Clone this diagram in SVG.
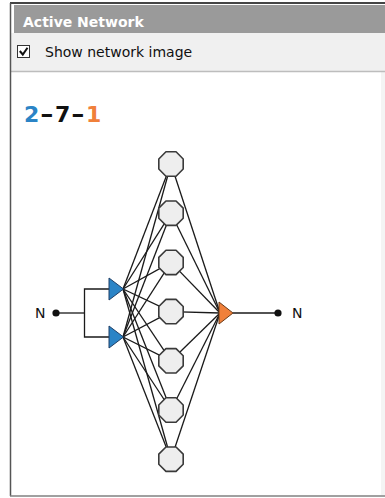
<svg xmlns="http://www.w3.org/2000/svg" width="385" height="498" viewBox="0 0 385 498">
  <style>
    .hdr { font-family: "DejaVu Sans", Verdana, sans-serif; font-weight: bold; font-size: 14px; fill: #ffffff; }
    .lbl { font-family: "DejaVu Sans", Verdana, sans-serif; font-size: 14px; fill: #111111; }
    .big { font-family: "DejaVu Sans", Verdana, sans-serif; font-weight: bold; font-size: 22px; }
    .wire { stroke: #1a1a1a; stroke-width: 1.3; fill: none; }
    .hid { fill: #eeeeee; stroke: #3a3a3a; stroke-width: 1.6; stroke-linejoin: round; }
    .inp { fill: #2b84c6; stroke: #1f3f66; stroke-width: 1; }
    .out { fill: #f0803a; stroke: #6a3a18; stroke-width: 1; }
    .dot { fill: #111111; }
  </style>
  <defs>
    <polygon id="oct" points="12.2,5.05 5.05,12.2 -5.05,12.2 -12.2,5.05 -12.2,-5.05 -5.05,-12.2 5.05,-12.2 12.2,-5.05"/>
  </defs>

  <!-- panel frame -->
  <g id="panel">
    <rect x="0" y="0" width="385" height="498" fill="#ffffff"/>
    <rect x="381" y="72" width="4" height="423" fill="#f4f4f4"/>
    <rect x="14" y="5" width="371" height="28" fill="#9a9a9a"/>
    <rect x="11" y="33" width="374" height="38" fill="#f0f0f0"/>
    <line x1="11" y1="71.5" x2="385" y2="71.5" stroke="#bdbdbd" stroke-width="1.5"/>
    <line x1="10" y1="3" x2="385" y2="3" stroke="#444444" stroke-width="2"/>
    <line x1="10.5" y1="3" x2="10.5" y2="496" stroke="#555555" stroke-width="1.5"/>
    <line x1="10" y1="496" x2="385" y2="496" stroke="#808080" stroke-width="1.5"/>
    <text class="hdr" x="23" y="27">Active Network</text>
    <rect x="17.5" y="45.5" width="12" height="12" fill="#ffffff" stroke="#333333" stroke-width="1"/>
    <polyline points="19.8,51 22.8,54.5 27.5,47.8" fill="none" stroke="#111111" stroke-width="2"/>
    <text class="lbl" x="45" y="57">Show network image</text>
    <g id="title">
      <text class="big" x="24" y="122" fill="#2b84c6">2</text>
      <text class="big" transform="translate(40,122) scale(1.5,1)" fill="#111111">-</text>
      <text class="big" x="55" y="122" fill="#111111">7</text>
      <text class="big" transform="translate(71,122) scale(1.5,1)" fill="#111111">-</text>
      <text class="big" x="86" y="122" fill="#f0803a">1</text>
    </g>
  </g>

  <!-- connectors -->
  <g id="connectors" class="wire">
    <line x1="56" y1="313" x2="84.5" y2="313"/>
    <polyline points="109,289 84.5,289 84.5,337 109,337"/>
    <line x1="123" y1="289" x2="171" y2="164"/>
    <line x1="123" y1="289" x2="171" y2="213.2"/>
    <line x1="123" y1="289" x2="171" y2="262.4"/>
    <line x1="123" y1="289" x2="171" y2="311.6"/>
    <line x1="123" y1="289" x2="171" y2="360.8"/>
    <line x1="123" y1="289" x2="171" y2="410"/>
    <line x1="123" y1="289" x2="171" y2="459.2"/>
    <line x1="123" y1="337" x2="171" y2="164"/>
    <line x1="123" y1="337" x2="171" y2="213.2"/>
    <line x1="123" y1="337" x2="171" y2="262.4"/>
    <line x1="123" y1="337" x2="171" y2="311.6"/>
    <line x1="123" y1="337" x2="171" y2="360.8"/>
    <line x1="123" y1="337" x2="171" y2="410"/>
    <line x1="123" y1="337" x2="171" y2="459.2"/>
    <line x1="171" y1="164" x2="220" y2="313"/>
    <line x1="171" y1="213.2" x2="220" y2="313"/>
    <line x1="171" y1="262.4" x2="220" y2="313"/>
    <line x1="171" y1="311.6" x2="220" y2="313"/>
    <line x1="171" y1="360.8" x2="220" y2="313"/>
    <line x1="171" y1="410" x2="220" y2="313"/>
    <line x1="171" y1="459.2" x2="220" y2="313"/>
    <line x1="233" y1="313" x2="278" y2="313"/>
  </g>

  <!-- nodes -->
  <g id="input-terminal">
    <text class="lbl" x="35" y="318">N</text>
    <circle class="dot" cx="56" cy="313" r="3.6"/>
  </g>
  <g id="input-1"><polygon class="inp" points="109,278 109,300 123.5,289"/></g>
  <g id="input-2"><polygon class="inp" points="109,326 109,348 123.5,337"/></g>
  <g id="hidden-1"><use href="#oct" class="hid" x="171" y="164"/></g>
  <g id="hidden-2"><use href="#oct" class="hid" x="171" y="213.2"/></g>
  <g id="hidden-3"><use href="#oct" class="hid" x="171" y="262.4"/></g>
  <g id="hidden-4"><use href="#oct" class="hid" x="171" y="311.6"/></g>
  <g id="hidden-5"><use href="#oct" class="hid" x="171" y="360.8"/></g>
  <g id="hidden-6"><use href="#oct" class="hid" x="171" y="410"/></g>
  <g id="hidden-7"><use href="#oct" class="hid" x="171" y="459.2"/></g>
  <g id="output-1"><polygon class="out" points="219,302 219,324 233,313"/></g>
  <g id="output-terminal">
    <circle class="dot" cx="278" cy="313" r="3.6"/>
    <text class="lbl" x="292" y="318">N</text>
  </g>
</svg>
